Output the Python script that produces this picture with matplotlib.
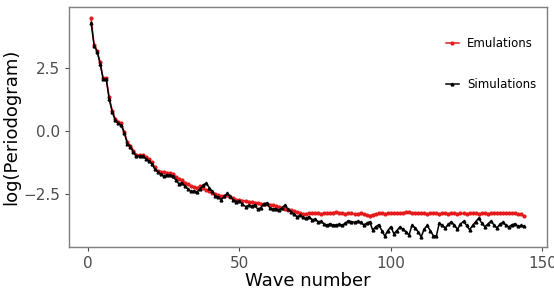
import numpy as np
import matplotlib
matplotlib.use("Agg")
import matplotlib.pyplot as plt

# Wave numbers 1..144 and log periodogram values
wave = np.arange(1, 145)

emulations = [
    4.47, 3.42, 3.18, 2.72, 2.08, 2.10, 1.33, 0.80, 0.48, 0.36,
    0.30, -0.05, -0.45, -0.58, -0.78, -0.95, -0.96, -0.95, -1.02, -1.10,
    -1.25, -1.45, -1.58, -1.62, -1.64, -1.66, -1.66, -1.70, -1.82, -1.90,
    -1.95, -2.05, -2.12, -2.18, -2.22, -2.25, -2.20, -2.28, -2.35, -2.40,
    -2.45, -2.52, -2.55, -2.60, -2.58, -2.55, -2.62, -2.68, -2.72, -2.74,
    -2.76, -2.78, -2.80, -2.82, -2.84, -2.86, -2.88, -2.90, -2.88, -2.92,
    -2.95, -2.98, -3.00, -3.04, -3.08, -3.12, -3.15, -3.18, -3.22, -3.26,
    -3.30, -3.28, -3.27, -3.27, -3.25, -3.27, -3.28, -3.26, -3.27, -3.25,
    -3.24, -3.22, -3.25, -3.27, -3.28, -3.26, -3.27, -3.29, -3.28, -3.27,
    -3.30, -3.33, -3.36, -3.32, -3.29, -3.27, -3.26, -3.28, -3.27, -3.25,
    -3.26, -3.27, -3.25, -3.24, -3.23, -3.22, -3.25, -3.26, -3.27, -3.26,
    -3.27, -3.28, -3.27, -3.26, -3.27, -3.28, -3.27, -3.27, -3.28, -3.26,
    -3.27, -3.28, -3.27, -3.27, -3.28, -3.27, -3.26, -3.27, -3.28, -3.27,
    -3.27, -3.28, -3.27, -3.24, -3.25, -3.26, -3.27, -3.26, -3.27, -3.26,
    -3.27, -3.28, -3.31, -3.36,
]

simulations = [
    4.30, 3.38, 3.15, 2.66, 2.05, 2.05, 1.25, 0.75, 0.42, 0.30,
    0.22, -0.10, -0.50, -0.62, -0.85, -1.00, -1.00, -1.00, -1.10, -1.18,
    -1.30, -1.50, -1.62, -1.72, -1.78, -1.75, -1.76, -1.80, -1.95, -2.10,
    -2.05, -2.20, -2.30, -2.40, -2.38, -2.42, -2.30, -2.15, -2.07, -2.25,
    -2.40, -2.58, -2.62, -2.72, -2.60, -2.47, -2.60, -2.75, -2.80, -2.78,
    -2.90, -3.00, -2.95, -2.98, -2.94, -3.10, -3.05, -2.90, -2.86, -3.05,
    -3.10, -3.08, -3.15, -3.05, -2.94, -3.10, -3.20, -3.30, -3.40, -3.35,
    -3.42, -3.47, -3.40, -3.52, -3.50, -3.60, -3.58, -3.70, -3.73, -3.68,
    -3.74, -3.72, -3.70, -3.74, -3.65, -3.56, -3.60, -3.62, -3.58, -3.62,
    -3.73, -3.66, -3.60, -3.93, -3.80, -3.72, -3.95, -4.17, -3.95, -3.80,
    -4.08, -3.95, -3.80, -3.90, -4.00, -4.13, -3.73, -3.85, -4.00, -4.20,
    -3.90, -3.75, -3.95, -4.15, -4.18, -3.65, -3.75, -3.85, -3.70, -3.60,
    -3.75, -3.90, -3.70, -3.58, -3.75, -3.92, -3.75, -3.60, -3.46, -3.65,
    -3.80, -3.70, -3.58, -3.72, -3.85, -3.70, -3.62, -3.75, -3.80, -3.72,
    -3.68, -3.78, -3.75, -3.78,
]

x_ticks = [0, 50, 100, 150]
y_ticks = [-2.5, 0.0, 2.5]

fig = plt.figure(figsize=(5.54, 3.0), dpi=100)
ax = fig.add_axes([0.1245, 0.177, 0.8625, 0.8])

ax.plot(wave, emulations, color="#e41a1c", lw=1.1, marker="o", ms=2.0,
        label="Emulations", zorder=2)
ax.plot(wave, simulations, color="black", lw=1.1, marker="^", ms=2.0,
        label="Simulations", zorder=3)

ax.set_xlim(-6.3, 151.5)
ax.set_ylim(-4.6, 4.92)
ax.set_xticks(x_ticks)
ax.set_xticklabels([str(t) for t in x_ticks])
ax.set_yticks(y_ticks)
ax.set_yticklabels(["\u22122.5", "0.0", "2.5"])
ax.tick_params(labelsize=11, colors="#4d4d4d", length=3, width=0.8)

for s in ax.spines.values():
    s.set_color("#7f7f7f")
    s.set_linewidth(1.0)

ax.set_xlabel("Wave number", fontsize=13, labelpad=1)
ax.set_ylabel("log(Periodogram)", fontsize=13, labelpad=2)

ax.legend(loc="upper right", bbox_to_anchor=(1.0, 0.92), frameon=False,
          fontsize=8.5, labelspacing=2.4, handlelength=1.1,
          handletextpad=0.7, markerscale=1.0)

fig.savefig("out.png", dpi=100)
